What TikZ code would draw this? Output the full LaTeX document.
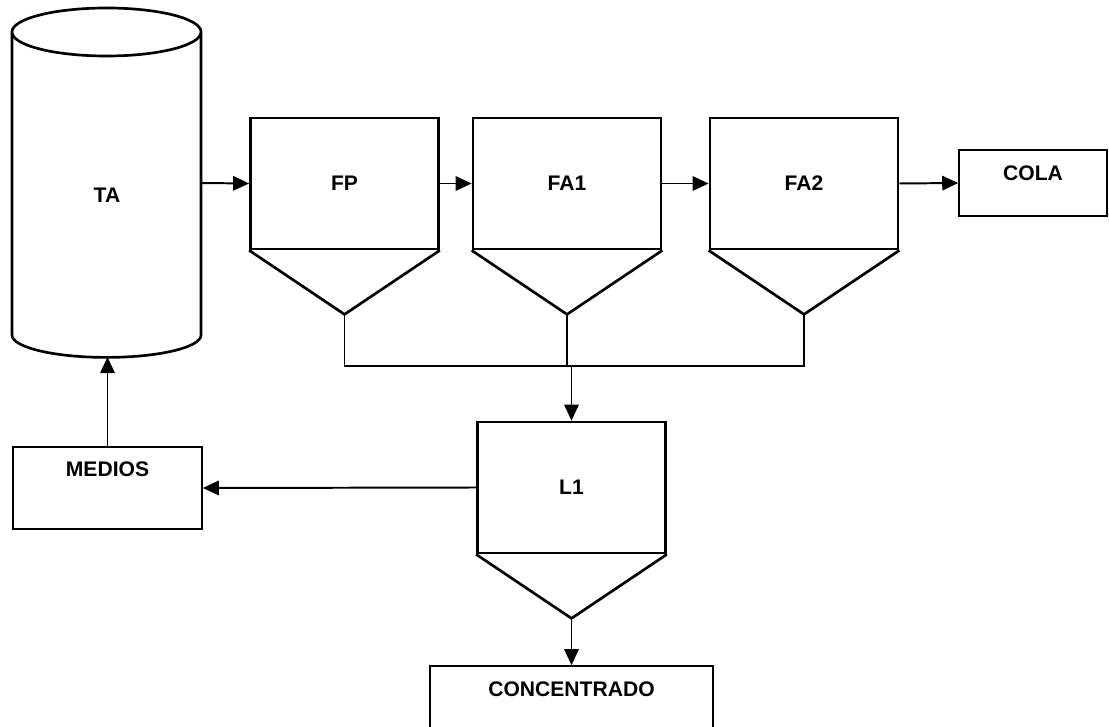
\documentclass[tikz,border=0pt]{standalone}
\usepackage{fontspec}
\setmainfont{Liberation Sans}
\usetikzlibrary{arrows.meta}
\usetikzlibrary{positioning}

\begin{document}
\begin{tikzpicture}[x=0.025cm, y=-0.025cm,
    font=\fontsize{15}{18}\selectfont\bfseries,
    celda/.style={draw, line width=1.9pt, minimum width=4.7cm, minimum height=3.275cm},
    cono/.style={line width=1.9pt, line join=miter},
    caja/.style={draw, line width=1.1pt, text height=0.38cm},
    linea/.style={line width=1.4pt},
    flecha/.style={line width=1.4pt, -{Triangle[length=0.4cm, width=0.36cm]}}]
    \clip (0,0) rectangle (1109,727);

    \draw[cono] (12,33) -- (12,335) arc[start angle=180, end angle=360, x radius=2.3625cm, y radius=0.56cm] -- (201,33);
    \draw[cono] (106.5,32) ellipse [x radius=2.3625cm, y radius=0.6cm];
    \node (TA) at (107,195) {TA};
    \coordinate (TA-der) at (201,183);
    \coordinate (TA-pie) at (107.5,357);

    \foreach \t/\x/\y in {FP/344.5/183.5, FA1/567/183.5, FA2/804/183.5, L1/571.5/487.5} {
      \node (\t) [celda] at (\x,\y) {\t};
      \coordinate (\t-v) at ([yshift=-1.6cm]\t.south);
      \draw[cono] (\t.south west) -- (\t-v) -- (\t.south east);
    }

    \node (COLA) [caja, text depth=0.5cm, minimum width=3.7cm, minimum height=1.65cm] at (1033,183) {COLA};
    \node (MEDIOS) [caja, text depth=0.95cm, minimum width=4.725cm, minimum height=2.05cm] at (107.5,488) {MEDIOS};
    \node (CONC) [caja, text depth=0.85cm, minimum width=7.075cm, minimum height=2cm] at (571.5,706) {CONCENTRADO};

    \coordinate (colector) at (0,366);
    \draw[linea] (FP-v) -- (FP-v |- colector) -- (FA2-v |- colector) -- (FA2-v);
    \draw[linea] (FA1-v) -- (FA1-v |- colector);

    \draw[flecha] (TA-der) -- (FP.west);
    \draw[flecha] (FP.east) -- (FA1.west);
    \draw[flecha] (FA1.east) -- (FA2.west);
    \draw[flecha] (FA2.east) -- (COLA.west);
    \draw[flecha] (L1.north |- colector) -- (L1.north);
    \draw[flecha] (L1.west) -- (MEDIOS.east);
    \draw[flecha] (MEDIOS.north) -- (TA-pie);
    \draw[flecha] (L1-v) -- (CONC.north);
\end{tikzpicture}
\end{document}
